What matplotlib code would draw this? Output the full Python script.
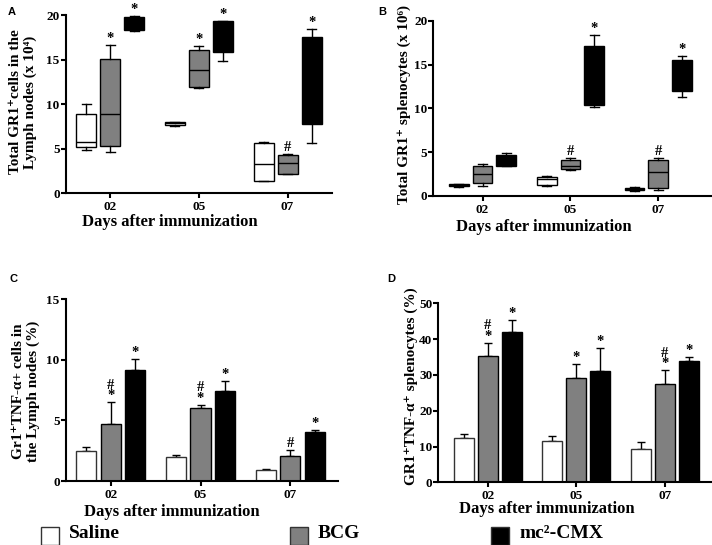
import numpy as np
import matplotlib
matplotlib.use("Agg")
import matplotlib.pyplot as plt
from matplotlib.patches import Rectangle

plt.rcParams["font.family"] = ["Liberation Serif", "DejaVu Serif"]
plt.rcParams["font.weight"] = "bold"

W, H = 712, 545

# ---------------------------------------------------------------------------
# Data
# ---------------------------------------------------------------------------
days = ["02", "05", "07"]
groups = ["Saline", "BCG", "mc\u00b2-CMX"]
colors = ["white", "#808080", "black"]

# box stats per group: [whislo, q1, med, q3, whishi] for days 02, 05, 07
a_saline = [[4.9, 5.15, 5.75, 8.9, 10.0], [7.6, 7.65, 7.85, 8.0, 8.05], [1.35, 1.4, 3.3, 5.65, 5.75]]
a_bcg = [[4.6, 5.3, 8.9, 15.1, 16.7], [11.8, 11.95, 13.9, 16.1, 16.5], [2.15, 2.2, 3.4, 4.35, 4.4]]
a_mc2 = [[18.2, 18.3, 19.0, 19.8, 19.9], [14.9, 15.9, 17.5, 19.4, 19.4], [5.7, 7.8, 13.0, 17.6, 18.5]]

b_saline = [[1.05, 1.1, 1.25, 1.35, 1.4], [1.1, 1.3, 1.9, 2.2, 2.25], [0.6, 0.7, 0.8, 0.95, 1.0]]
b_bcg = [[1.15, 1.5, 2.55, 3.4, 3.6], [3.0, 3.05, 3.4, 4.1, 4.35], [0.65, 0.95, 2.7, 4.1, 4.35]]
b_mc2 = [[3.4, 3.45, 4.0, 4.65, 4.95], [10.1, 10.4, 14.0, 17.15, 18.4], [11.25, 12.0, 14.0, 15.55, 15.95]]

# bar means and SEM
c_mean = [[2.48, 2.0, 0.88], [4.7, 6.03, 2.09], [9.17, 7.43, 4.05]]
c_sem = [[0.36, 0.15, 0.11], [1.8, 0.25, 0.44], [0.9, 0.85, 0.19]]
d_mean = [[12.5, 11.45, 9.3], [35.2, 29.1, 27.4], [42.1, 31.0, 33.8]]
d_sem = [[0.9, 1.45, 1.9], [3.8, 3.9, 3.9], [3.3, 6.4, 1.2]]

# significance marks: (group index, day index, text)
a_marks = [(1, 0, "*"), (2, 0, "*"), (1, 1, "*"), (2, 1, "*"), (1, 2, "#"), (2, 2, "*")]
b_marks = [(1, 1, "#"), (2, 1, "*"), (1, 2, "#"), (2, 2, "*")]
c_marks = [(1, 0, "#\n*"), (2, 0, "*"), (1, 1, "#\n*"), (2, 1, "*"), (1, 2, "#"), (2, 2, "*")]
d_marks = [(1, 0, "#\n*"), (2, 0, "*"), (1, 1, "*"), (2, 1, "*"), (1, 2, "#\n*"), (2, 2, "*")]

OFFS = [-0.27, 0.0, 0.27]
WID = 0.225


def fx(x):
    return x / W


def fy(y):
    return 1 - y / H


def make_ax(fig, x0, x1, y_bot, y_top):
    ax = fig.add_axes([fx(x0), fy(y_bot), (x1 - x0) / W, (y_bot - y_top) / H])
    for s in ["top", "right"]:
        ax.spines[s].set_visible(False)
    for s in ["left", "bottom"]:
        ax.spines[s].set_linewidth(1.5)
    ax.tick_params(direction="out", length=3.5, width=1.5, labelsize=9.5, pad=0.8)
    ax.tick_params(axis="x", pad=2)
    ax.set_xticks(range(3))
    ax.set_xticklabels(days)
    return ax


def draw_boxes(ax, series):
    for gi, data in enumerate(series):
        stats = [dict(whislo=s[0], q1=s[1], med=s[2], q3=s[3], whishi=s[4], fliers=[])
                 for s in data]
        ax.bxp(stats, positions=np.arange(3) + OFFS[gi], widths=WID,
               capwidths=WID * 0.45, patch_artist=True, showfliers=False,
               boxprops=dict(facecolor=colors[gi], edgecolor="black", linewidth=1),
               medianprops=dict(color="black", linewidth=1),
               whiskerprops=dict(color="black", linewidth=1),
               capprops=dict(color="black", linewidth=1), manage_ticks=False)


def draw_bars(ax, means, sems):
    for gi in range(3):
        x = np.arange(3) + OFFS[gi]
        ax.bar(x, means[gi], width=WID, color=colors[gi],
               edgecolor="#333333" if gi == 0 else "black", linewidth=1, zorder=2)
        ax.errorbar(x, means[gi], yerr=[np.zeros(3), sems[gi]], fmt="none",
                    ecolor="black", elinewidth=1, capsize=2.8, capthick=1, zorder=1)


def marks(ax, items, tops):
    for gi, di, t in items:
        ax.annotate(t, xy=(di + OFFS[gi], tops[gi][di]), xytext=(0, 0),
                    textcoords="offset points", ha="center", va="bottom",
                    fontsize=10.5, linespacing=0.75)


fig = plt.figure(figsize=(W / 100, H / 100), dpi=100)

# Panel A
axA = make_ax(fig, 65.7, 332, 193.3, 15.3)
draw_boxes(axA, [a_saline, a_bcg, a_mc2])
axA.set_xlim(-0.5, 2.5)
axA.set_ylim(0, 20)
axA.set_yticks([0, 5, 10, 15, 20])
marks(axA, a_marks, [[s[4] for s in g] for g in [a_saline, a_bcg, a_mc2]])

# Panel B
axB = make_ax(fig, 433.3, 711, 196, 20.7)
draw_boxes(axB, [b_saline, b_bcg, b_mc2])
axB.set_xlim(-0.56, 2.6)
axB.set_ylim(0, 20)
axB.set_yticks([0, 5, 10, 15, 20])
marks(axB, b_marks, [[s[4] for s in g] for g in [b_saline, b_bcg, b_mc2]])

# Panel C
axC = make_ax(fig, 65.7, 338, 481, 299.3)
draw_bars(axC, c_mean, c_sem)
axC.set_xlim(-0.5, 2.53)
axC.set_ylim(0, 15)
axC.set_yticks([0, 5, 10, 15])
marks(axC, c_marks, np.array(c_mean) + np.array(c_sem))

# Panel D
axD = make_ax(fig, 438.3, 711, 482.3, 303.3)
draw_bars(axD, d_mean, d_sem)
axD.set_xlim(-0.557, 2.52)
axD.set_ylim(0, 50)
axD.set_yticks([0, 10, 20, 30, 40, 50])
marks(axD, d_marks, np.array(d_mean) + np.array(d_sem))

# axis labels
YS = 11
fig.text(fx(23), fy(102), "Total GR1\u207acells in the\nLymph nodes (x 10\u2074)",
         rotation=90, ha="center", va="center", fontsize=YS, linespacing=1.2)
fig.text(fx(404), fy(105), "Total GR1\u207a splenocytes (x 10\u2076)",
         rotation=90, ha="center", va="center", fontsize=YS)
fig.text(fx(26), fy(391), "Gr1\u207aTNF-\u03b1+ cells in\nthe Lymph nodes (%)",
         rotation=90, ha="center", va="center", fontsize=YS, linespacing=1.2)
fig.text(fx(411), fy(386), "GR1\u207aTNF-\u03b1\u207a splenocytes (%)",
         rotation=90, ha="center", va="center", fontsize=YS)

for (x, y) in [(170, 221.7), (544, 226.7), (172, 511.7), (547, 509)]:
    fig.text(fx(x), fy(y), "Days after immunization", ha="center", va="center", fontsize=12)

# panel letters
for (x, y, t) in [(12, 12, "A"), (382, 12, "B"), (13, 279, "C"), (391, 279, "D")]:
    fig.text(fx(x), fy(y), t, ha="center", va="center", fontsize=8,
             family="Liberation Sans", weight="bold")

# legend
for (x0, tx, gi) in [(41, 69, 0), (290, 318, 1), (491, 520, 2)]:
    fig.add_artist(Rectangle((fx(x0), fy(545)), 18 / W, 18 / H, transform=fig.transFigure,
                             facecolor=colors[gi], edgecolor="#333333", linewidth=1))
    fig.text(fx(tx), fy(534), groups[gi], ha="left", va="center", fontsize=14)

fig.savefig("out.png", dpi=100)
